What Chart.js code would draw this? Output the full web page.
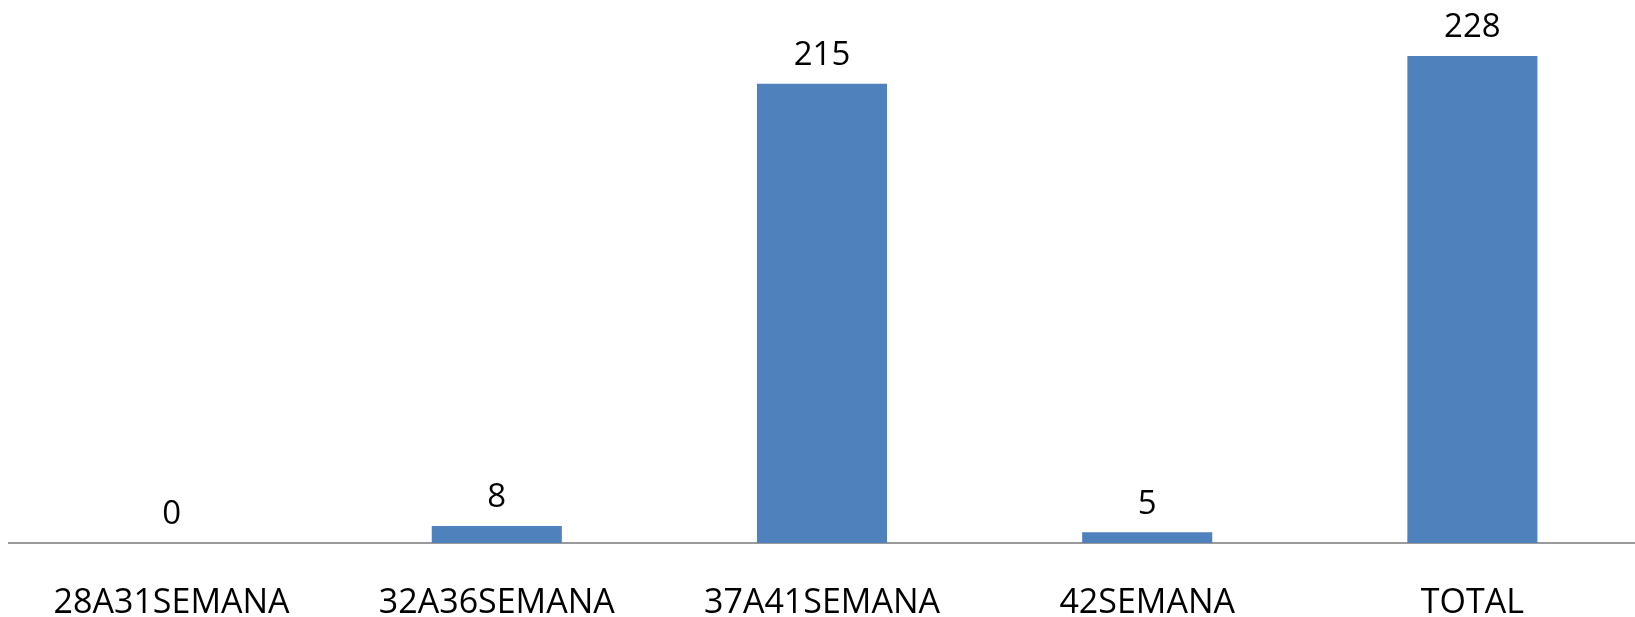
<!DOCTYPE html>
<html>
<head>
<meta charset="utf-8">
<script src="https://cdn.jsdelivr.net/npm/chart.js@4/dist/chart.umd.min.js"></script>
<style>
  html, body { margin: 0; padding: 0; background: #ffffff; }
  #wrap { position: relative; width: 1635px; height: 617px; }
</style>
</head>
<body>
<div id="wrap"><canvas id="chart"></canvas></div>
<script>
// Semanas de gestación
const categories = ['28A31SEMANA', '32A36SEMANA', '37A41SEMANA', '42SEMANA', 'TOTAL'];
const values = [0, 8, 215, 5, 228];

const barColor = '#4F81BD';
const fontFamily = '"Open Sans", "Liberation Sans", sans-serif';

// draws the number above each bar
const valueLabels = {
  id: 'valueLabels',
  afterDatasetsDraw(chart) {
    const ctx = chart.ctx;
    const meta = chart.getDatasetMeta(0);
    ctx.save();
    ctx.font = '33px ' + fontFamily;
    ctx.fillStyle = '#000000';
    ctx.textAlign = 'center';
    ctx.textBaseline = 'middle';
    meta.data.forEach((bar, i) => {
      ctx.fillText(String(values[i]), bar.x, bar.y - 28);
    });
    ctx.restore();
  }
};

new Chart(document.getElementById('chart').getContext('2d'), {
  type: 'bar',
  data: {
    labels: categories,
    datasets: [{
      data: values,
      backgroundColor: barColor,
      borderWidth: 0,
      categoryPercentage: 0.8,
      barPercentage: 0.5
    }]
  },
  options: {
    responsive: true,
    maintainAspectRatio: false,
    animation: false,
    layout: { padding: { left: 9, top: 9, right: 0, bottom: 0 } },
    plugins: {
      legend: { display: false },
      title: { display: false },
      tooltip: { enabled: false }
    },
    scales: {
      x: {
        grid: { display: false, drawTicks: false },
        border: { display: true, color: '#9a9a9a', width: 2 },
        ticks: {
          color: '#000000',
          padding: 40,
          maxRotation: 0,
          autoSkip: false,
          font: { family: fontFamily, size: 34 }
        },
        afterFit(scale) {
          scale.height = 74;
        }
      },
      y: {
        display: false,
        min: 0,
        max: 250
      }
    }
  },
  plugins: [valueLabels]
});
</script>
</body>
</html>
